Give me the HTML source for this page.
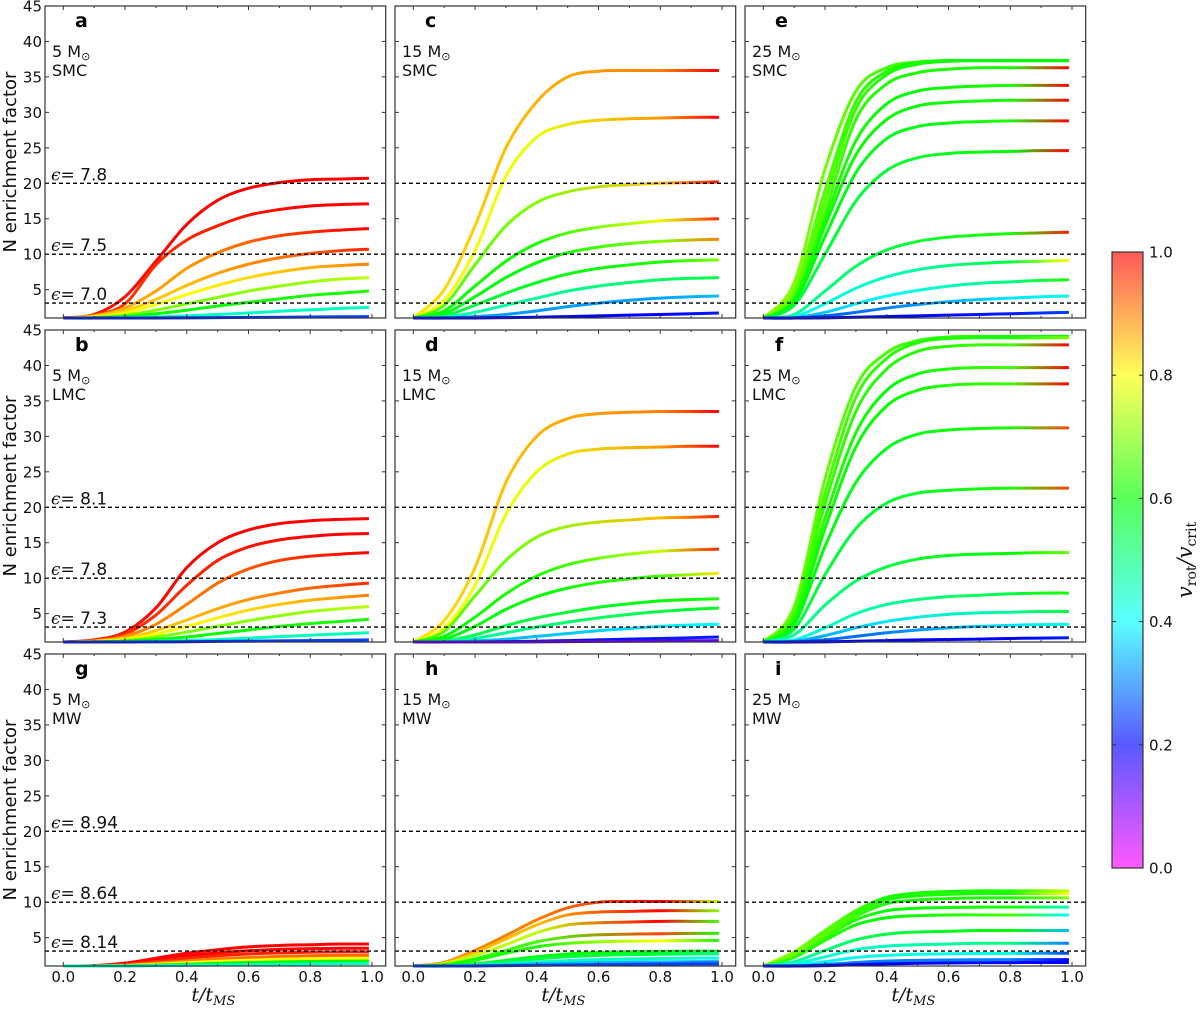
<!DOCTYPE html>
<html><head><meta charset="utf-8">
<style>
html,body{margin:0;padding:0;background:#fff;}
svg{display:block;font-family:"DejaVu Sans","Liberation Sans",sans-serif;}
</style></head>
<body>
<svg id="fig" width="1200" height="1009" viewBox="0 0 1200 1009" xmlns="http://www.w3.org/2000/svg">
<defs id="defs"></defs>
</svg>
<script>
// time samples (t/t_MS) for every track
const T = [0,0.1,0.2,0.3,0.4,0.5,0.6,0.7,0.8,0.9,0.99];
// times at which colour (v_rot/v_crit) samples are given
const CT = [0,0.4,0.8,0.99];
const yTicks = [5,10,15,20,25,30,35,40,45];
const xTicks = [0,0.2,0.4,0.6,0.8,1.0];
const xTickLabels = ["0.0","0.2","0.4","0.6","0.8","1.0"];
const cbTicks = [0,0.2,0.4,0.6,0.8,1.0];
const cbTickLabels = ["0.0","0.2","0.4","0.6","0.8","1.0"];
const refLines = [20,10,3.1];

const aN=[[1,1.5,4,9,14.2,17.6,19.3,20.1,20.5,20.6,20.7],[1,1.4,3,8.5,12,14,15.5,16.3,16.8,17,17.1],[1,1.3,2.4,4.8,8,10.2,11.7,12.6,13.1,13.4,13.6],[1,1.2,2,3.6,5.6,7.3,8.6,9.5,10.1,10.5,10.7],[1,1.1,1.7,2.9,4.3,5.6,6.7,7.5,8.1,8.4,8.6],[1,1.05,1.4,2.1,3,3.9,4.8,5.5,6.1,6.5,6.7],[1,1,1.2,1.6,2.1,2.7,3.2,3.7,4.2,4.5,4.8],[1,1,1.05,1.15,1.3,1.5,1.7,1.95,2.15,2.35,2.5],[1,1,1,1,1.02,1.05,1.08,1.1,1.14,1.17,1.2]];
const aV=[[0.98,1,1,1],[0.95,0.97,1,1],[0.85,0.88,0.97,1],[0.82,0.85,0.93,0.97],[0.78,0.8,0.86,0.9],[0.68,0.7,0.72,0.75],[0.58,0.6,0.62,0.62],[0.42,0.44,0.45,0.45],[0.22,0.23,0.25,0.25]];
const bN=[[1,1.3,2.4,5.8,11.5,15,16.8,17.7,18.1,18.3,18.4],[1,1.2,2.1,4.8,9,12.5,14.4,15.4,15.9,16.2,16.3],[1,1.15,1.8,3.5,6.3,9.3,11.3,12.5,13.1,13.4,13.6],[1,1.1,1.5,2.6,4.1,5.7,7,7.9,8.6,9,9.3],[1,1.05,1.35,2.1,3.2,4.4,5.5,6.3,6.9,7.3,7.6],[1,1.03,1.2,1.7,2.4,3.2,4,4.7,5.3,5.7,6.0],[1,1,1.1,1.35,1.7,2.2,2.7,3.2,3.6,3.9,4.2],[1,1,1.02,1.1,1.2,1.35,1.55,1.75,1.95,2.15,2.3],[1,1,1,1.02,1.04,1.08,1.12,1.16,1.2,1.25,1.3]];
const bV=[[0.98,1,1,1],[0.95,0.97,1,1],[0.88,0.9,0.97,1],[0.82,0.85,0.92,0.97],[0.78,0.8,0.86,0.9],[0.68,0.7,0.72,0.75],[0.58,0.6,0.62,0.62],[0.42,0.44,0.45,0.45],[0.22,0.23,0.25,0.25]];
const cN=[[1,5,14,25,31.5,35,35.8,35.9,35.9,35.9,35.9],[1,3.5,10.5,21,26.5,28.3,28.9,29.1,29.2,29.3,29.3],[1,2.8,8.5,14,17.3,18.8,19.5,19.8,20,20.1,20.2],[1,2,5.5,9,11.5,13,13.8,14.3,14.7,14.9,15.0],[1,1.6,4,6.7,8.8,10.2,11,11.5,11.8,12,12.1],[1,1.3,2.8,4.5,6,7.2,8,8.5,8.9,9.1,9.2],[1,1.1,1.8,2.8,3.8,4.8,5.5,6,6.4,6.6,6.7],[1,1,1.2,1.5,2,2.6,3.1,3.5,3.8,4,4.1],[1,1,1,1.05,1.1,1.2,1.3,1.4,1.5,1.6,1.7]];
const cV=[[0.82,0.86,0.9,1],[0.8,0.78,0.88,1],[0.65,0.7,0.85,0.98],[0.6,0.62,0.78,0.97],[0.58,0.6,0.7,0.9],[0.52,0.58,0.62,0.7],[0.45,0.48,0.52,0.55],[0.33,0.32,0.33,0.35],[0.2,0.2,0.2,0.22]];
const dN=[[1,4,11.5,23.5,30,32.5,33.2,33.4,33.5,33.5,33.5],[1,3,9,19,25,27.5,28.2,28.4,28.5,28.6,28.6],[1,2.5,7.5,12.5,15.8,17.3,17.9,18.2,18.5,18.6,18.7],[1,1.8,4.5,7.8,10.3,11.9,12.8,13.4,13.8,14,14.1],[1,1.4,3.2,5.6,7.4,8.6,9.4,9.9,10.3,10.5,10.7],[1,1.15,2,3.3,4.4,5.2,5.9,6.4,6.8,7,7.1],[1,1.05,1.5,2.3,3.1,3.8,4.4,4.9,5.3,5.6,5.8],[1,1,1.15,1.4,1.8,2.2,2.6,2.9,3.2,3.4,3.5],[1,1,1,1.05,1.1,1.2,1.3,1.4,1.5,1.6,1.7],[1,1,1,1,1.02,1.05,1.08,1.1,1.13,1.17,1.2]];
const dV=[[0.82,0.86,0.9,1],[0.8,0.78,0.88,1],[0.65,0.7,0.85,0.98],[0.6,0.62,0.75,0.97],[0.58,0.6,0.65,0.82],[0.52,0.55,0.6,0.62],[0.45,0.5,0.55,0.58],[0.35,0.35,0.38,0.4],[0.2,0.2,0.22,0.22],[0.12,0.12,0.12,0.12]];
const eN=[[1,6,22,33,36.3,37.1,37.3,37.3,37.3,37.3,37.3],[1,5,19,31.5,35.8,37,37.3,37.3,37.3,37.3,37.3],[1,4.5,17.5,30.5,35.3,36.8,37.2,37.3,37.3,37.3,37.3],[1,4,16,29,34,35.6,36.1,36.3,36.3,36.3,36.3],[1,3.8,15,26,31.2,33,33.5,33.7,33.8,33.8,33.8],[1,3.5,14,24,29,30.9,31.4,31.6,31.7,31.7,31.7],[1,3.2,12.5,21.5,26.3,28,28.5,28.7,28.8,28.8,28.8],[1,2.8,10,17.5,21.8,23.6,24.2,24.4,24.5,24.6,24.6],[1,1.5,4.8,8.3,10.6,11.8,12.4,12.7,12.9,13,13.1],[1,1.2,3,5.2,6.8,7.8,8.4,8.7,8.9,9,9.1],[1,1.05,1.8,3,4.1,4.9,5.5,5.9,6.1,6.3,6.4],[1,1,1.3,1.8,2.4,2.9,3.3,3.6,3.8,4,4.1],[1,1,1.02,1.1,1.2,1.3,1.4,1.5,1.6,1.7,1.8]];
const eV=[[0.72,0.65,0.6,0.6],[0.7,0.62,0.6,0.58],[0.7,0.62,0.6,0.6],[0.68,0.62,0.62,1],[0.65,0.6,0.62,1],[0.62,0.6,0.62,1],[0.6,0.58,0.62,1],[0.55,0.56,0.6,1],[0.45,0.55,0.62,0.98],[0.4,0.45,0.55,0.8],[0.32,0.4,0.5,0.62],[0.25,0.3,0.38,0.42],[0.2,0.2,0.22,0.25]];
const fN=[[1,6,24,37,41.8,43.5,44,44.1,44.1,44.1,44.1],[1,5.5,22,35.5,41,43.2,43.8,43.9,43.9,43.9,43.9],[1,5,20.5,33.5,39.5,42,42.7,42.9,42.9,42.9,42.9],[1,4.5,18.5,30.5,36.5,38.8,39.5,39.7,39.7,39.7,39.7],[1,4,17,28.5,34.3,36.5,37.2,37.4,37.4,37.4,37.4],[1,3.5,14.5,23.5,28.3,30.3,30.9,31.1,31.2,31.2,31.2],[1,2.8,10.5,17,20.6,22,22.4,22.6,22.7,22.7,22.7],[1,2,6.2,9.6,11.6,12.7,13.2,13.4,13.5,13.6,13.6],[1,1.3,3,5,6.3,7,7.4,7.6,7.8,7.9,7.9],[1,1.1,1.9,3,3.9,4.5,4.9,5.1,5.2,5.3,5.3],[1,1,1.3,1.8,2.3,2.7,3,3.2,3.35,3.45,3.5],[1,1,1.02,1.1,1.2,1.3,1.35,1.4,1.5,1.55,1.6]];
const fV=[[0.7,0.65,0.62,0.6],[0.68,0.63,0.62,0.7],[0.66,0.62,0.65,1],[0.65,0.6,0.65,1],[0.62,0.6,0.65,1],[0.6,0.58,0.62,0.95],[0.55,0.56,0.62,0.95],[0.45,0.55,0.6,0.68],[0.4,0.48,0.55,0.62],[0.3,0.38,0.48,0.55],[0.25,0.3,0.38,0.42],[0.2,0.2,0.2,0.22]];
const gN=[[1,1.05,1.4,2.1,2.8,3.3,3.7,3.9,4.0,4.1,4.1],[1,1.03,1.3,1.8,2.4,2.85,3.15,3.35,3.45,3.5,3.5],[1,1.02,1.2,1.6,2.1,2.45,2.7,2.85,2.95,3,3],[1,1,1.1,1.4,1.7,2,2.2,2.35,2.45,2.5,2.5],[1,1,1.05,1.25,1.45,1.65,1.8,1.95,2.03,2.08,2.1],[1,1,1.02,1.12,1.25,1.38,1.5,1.58,1.64,1.68,1.7],[1,1,1,1.05,1.1,1.15,1.2,1.25,1.3,1.33,1.35]];
const gV=[[1,1,1,1],[0.98,1,1,1],[0.95,0.97,0.98,0.98],[0.88,0.9,0.92,0.92],[0.78,0.8,0.8,0.8],[0.6,0.6,0.6,0.6],[0.45,0.45,0.45,0.45]];
const hN=[[1,1.5,3.2,5.3,7.5,9.2,10,10.1,10.1,10.1,10.1],[1,1.4,2.9,4.8,6.8,8.2,8.6,8.7,8.8,8.8,8.8],[1,1.3,2.5,4,5.7,6.8,7.1,7.2,7.3,7.3,7.3],[1,1.2,2,3.2,4.4,5.1,5.4,5.5,5.55,5.6,5.6],[1,1.1,1.8,2.8,3.7,4.2,4.4,4.5,4.55,4.6,4.6],[1,1.05,1.3,1.8,2.3,2.7,2.9,3,3.05,3.1,3.1],[1,1,1.2,1.6,2,2.3,2.5,2.6,2.65,2.7,2.7],[1,1,1.1,1.3,1.55,1.75,1.9,2,2.05,2.1,2.1],[1,1,1.05,1.15,1.3,1.4,1.5,1.55,1.58,1.6,1.6],[1,1,1,1.05,1.1,1.15,1.2,1.25,1.28,1.3,1.3]];
const hV=[[0.9,0.9,1.0,0.75],[0.85,0.85,1.0,0.7],[0.75,0.75,1.0,0.65],[0.62,0.65,0.95,0.62],[0.62,0.62,0.8,0.62],[0.55,0.6,0.6,0.55],[0.5,0.55,0.55,0.5],[0.42,0.45,0.45,0.42],[0.35,0.35,0.35,0.3],[0.25,0.25,0.25,0.25]];
const iN=[[1,3,6,8.8,10.7,11.3,11.5,11.6,11.6,11.6,11.6],[1,2.8,5.7,8.4,10.3,10.9,11.1,11.2,11.2,11.2,11.2],[1,2.6,5.4,8,9.8,10.3,10.5,10.6,10.6,10.6,10.6],[1,2.4,5,7.5,8.8,9.15,9.25,9.3,9.3,9.3,9.3],[1,2.2,4.6,6.8,7.8,8.1,8.2,8.2,8.2,8.2,8.2],[1,1.6,3.2,4.7,5.5,5.8,5.9,6,6,6,6],[1,1.3,2.3,3.3,3.8,4,4.1,4.2,4.2,4.2,4.2],[1,1.1,1.6,2.2,2.5,2.65,2.72,2.76,2.78,2.8,2.8],[1,1,1.2,1.5,1.7,1.8,1.85,1.88,1.9,1.9,1.9],[1,1,1.05,1.2,1.3,1.38,1.43,1.46,1.48,1.5,1.5]];
const iV=[[0.72,0.62,0.62,0.75],[0.72,0.62,0.62,0.8],[0.72,0.62,0.62,0.7],[0.7,0.6,0.62,0.45],[0.65,0.6,0.65,0.4],[0.45,0.55,0.6,0.35],[0.42,0.45,0.5,0.3],[0.38,0.42,0.42,0.25],[0.3,0.3,0.3,0.2],[0.2,0.2,0.2,0.2]];

const panels = [
 {id:'a',col:0,row:0,mass:'5',gal:'SMC',eps:['7.8','7.5','7.0'],N:aN,V:aV},
 {id:'c',col:1,row:0,mass:'15',gal:'SMC',eps:null,N:cN,V:cV},
 {id:'e',col:2,row:0,mass:'25',gal:'SMC',eps:null,N:eN,V:eV},
 {id:'b',col:0,row:1,mass:'5',gal:'LMC',eps:['8.1','7.8','7.3'],N:bN,V:bV},
 {id:'d',col:1,row:1,mass:'15',gal:'LMC',eps:null,N:dN,V:dV},
 {id:'f',col:2,row:1,mass:'25',gal:'LMC',eps:null,N:fN,V:fV},
 {id:'g',col:0,row:2,mass:'5',gal:'MW',eps:['8.94','8.64','8.14'],N:gN,V:gV},
 {id:'h',col:1,row:2,mass:'15',gal:'MW',eps:null,N:hN,V:hV},
 {id:'i',col:2,row:2,mass:'25',gal:'MW',eps:null,N:iN,V:iV}
];

const NS='http://www.w3.org/2000/svg';
const svg=document.getElementById('fig');
const defs=document.getElementById('defs');
const colL=[45,395,745], rowT=[6,330,654], PW=340.7, PH=312;
function cmap(v){return 'hsl('+(300*(1-v)).toFixed(1)+',100%,50%)';}
function mk(tag,attrs,parent){const e=document.createElementNS(NS,tag);for(const k in attrs)e.setAttribute(k,attrs[k]);(parent||svg).appendChild(e);return e;}
function txt(s,attrs,parent){const e=mk('text',attrs,parent);e.textContent=s;return e;}

panels.forEach(p=>{
  const L=colL[p.col], Tp=rowT[p.row];
  const xs=t=>L+18.3+t*308.7;
  const ys=v=>Tp+(45-v)/44*PH;
  const g=mk('g',{});
  
  
  p.N.forEach((vals,k)=>{
    const gid='gr-'+p.id+'-'+k;
    const lg=mk('linearGradient',{id:gid,gradientUnits:'userSpaceOnUse',x1:xs(0),y1:0,x2:xs(0.99),y2:0},defs);
    p.V[k].forEach((v,j)=>mk('stop',{offset:(CT[j]/0.99).toFixed(3),'stop-color':cmap(v)},lg));
    const pts=T.map((t,j)=>[xs(t),ys(vals[j])]);
    let d='M'+pts[0][0].toFixed(2)+','+pts[0][1].toFixed(2);
    for(let j=0;j<pts.length-1;j++){
      const p0=pts[Math.max(0,j-1)],p1=pts[j],p2=pts[j+1],p3=pts[Math.min(pts.length-1,j+2)];
      const c1=[p1[0]+(p2[0]-p0[0])/6,p1[1]+(p2[1]-p0[1])/6];
      const c2=[p2[0]-(p3[0]-p1[0])/6,p2[1]-(p3[1]-p1[1])/6];
      d+=' C'+c1.map(n=>n.toFixed(2)).join(',')+' '+c2.map(n=>n.toFixed(2)).join(',')+' '+p2[0].toFixed(2)+','+p2[1].toFixed(2);
    }
    const path=mk('path',{d:d,fill:'none',stroke:'url(#'+gid+')','stroke-width':3,'stroke-linecap':'butt'},g);
    
    
  });
  refLines.forEach((r,k)=>{
    const ln=mk('line',{x1:L,x2:L+PW,y1:ys(r),y2:ys(r),stroke:'#000','stroke-width':1.4,'stroke-dasharray':'4,3'},g);
    
    
    if(p.eps){
      const t=txt('',{x:L+6,y:ys(r)-3,'font-size':17,fill:'#111'},g);
      
      
      const s1=mk('tspan',{'font-family':'DejaVu Serif, serif','font-style':'italic'},t);s1.textContent='ϵ';
      const s2=mk('tspan',{},t);s2.textContent='= '+p.eps[k];
    }
  });
  const fr=mk('rect',{x:L,y:Tp,width:PW,height:PH,fill:'none',stroke:'#333','stroke-width':1.2},g);
  
  
  yTicks.forEach(v=>{
    mk('line',{x1:L,x2:L+4,y1:ys(v),y2:ys(v),stroke:'#333','stroke-width':1},g);
    mk('line',{x1:L+PW-4,x2:L+PW,y1:ys(v),y2:ys(v),stroke:'#333','stroke-width':1},g);
    if(p.col===0){
      const t=txt(String(v),{x:L-3,y:ys(v)+5.5,'font-size':15,'text-anchor':'end',fill:'#111'},g);
      
      
    }
  });
  for(let m=0;m<=10;m++){
    const t=m/10, len=(m%2===0)?4:2;
    mk('line',{x1:xs(t),x2:xs(t),y1:Tp+PH,y2:Tp+PH-len,stroke:'#333','stroke-width':1},g);
    mk('line',{x1:xs(t),x2:xs(t),y1:Tp,y2:Tp+len,stroke:'#333','stroke-width':1},g);
  }
  if(p.row===2){
    xTicks.forEach((t,k)=>{
      const e=txt(xTickLabels[k],{x:xs(t),y:982,'font-size':15,'text-anchor':'middle',fill:'#111'},g);
      
      
    });
    const xl=txt('',{x:L+PW/2-2,y:1001,'font-size':19,'text-anchor':'middle','font-family':'DejaVu Serif, serif','font-style':'italic',fill:'#111'},g);
    
    
    const a=mk('tspan',{},xl);a.textContent='t/t';
    const b=mk('tspan',{'font-size':13,dy:4},xl);b.textContent='MS';
  }
  if(p.col===0){
    const cy=Tp+PH/2;
    const yl=txt('N enrichment factor',{x:0,y:0,'font-size':18,'text-anchor':'middle',fill:'#111',transform:'translate(16,'+cy+') rotate(-90)'},g);
    
    
  }
  const lt=txt(p.id,{x:L+30,y:Tp+21,'font-size':19,'font-weight':'bold',fill:'#000'},g);
  
  
  const ms=txt(p.mass+' M',{x:L+7,y:Tp+51,'font-size':16,fill:'#111'},g);
  
  
  const sun=mk('tspan',{'font-size':11,dy:3},ms);sun.textContent='⊙';
  const gl=txt(p.gal,{x:L+7,y:Tp+70,'font-size':16,fill:'#111'},g);
  
  
});

const cbg=mk('linearGradient',{id:'cbgrad',x1:0,y1:1,x2:0,y2:0},defs);
cbTicks.forEach(v=>mk('stop',{offset:v,'stop-color':cmap(v)},cbg));
const cbX=1112,cbW=31,cbTop=252,cbBot=868;
const cbr=mk('rect',{x:cbX,y:cbTop,width:cbW,height:cbBot-cbTop,fill:'url(#cbgrad)','fill-opacity':0.65,stroke:'#333','stroke-width':1.2});


cbTicks.forEach((v,k)=>{
  const y=cbBot-v*(cbBot-cbTop);
  mk('line',{x1:cbX,x2:cbX+4,y1:y,y2:y,stroke:'#333'});
  mk('line',{x1:cbX+cbW-4,x2:cbX+cbW,y1:y,y2:y,stroke:'#333'});
  const t=txt(cbTickLabels[k],{x:cbX+cbW+6,y:y+5.5,'font-size':15,fill:'#111'});
  
  
});
const cbl=txt('',{x:0,y:0,'font-size':21,'text-anchor':'middle','font-family':'DejaVu Serif, serif',fill:'#111',transform:'translate(1192,560) rotate(-90)'});


const c1=mk('tspan',{'font-style':'italic'},cbl);c1.textContent='v';
const c2=mk('tspan',{'font-size':14,dy:4},cbl);c2.textContent='rot';
const c3=mk('tspan',{dy:-4,'font-style':'italic'},cbl);c3.textContent='/v';
const c4=mk('tspan',{'font-size':14,dy:4},cbl);c4.textContent='crit';
</script>
</body></html>
